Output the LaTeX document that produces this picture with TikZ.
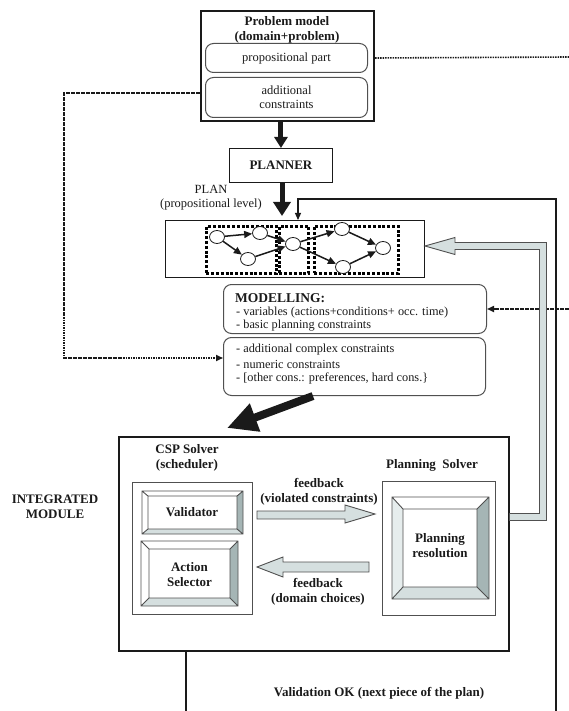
\documentclass[tikz,border=0pt]{standalone}
\usepackage{fontspec}
\setmainfont{Liberation Serif}
\usetikzlibrary{arrows.meta,shapes.geometric}
\definecolor{gfill}{HTML}{D5DFDF}
\definecolor{gdark}{HTML}{A5B5B5}
\definecolor{glight}{HTML}{E6EDED}
\definecolor{gline}{HTML}{505050}
\definecolor{ink}{HTML}{1A1A1A}
\tikzset{
  bt/.style={font=\fontsize{13}{15}\selectfont\bfseries, align=center, inner sep=0pt, text=ink},
  rt/.style={font=\fontsize{12.5}{14}\selectfont, align=center, inner sep=0pt, text=ink},
  lt/.style={font=\fontsize{12.3}{14}\selectfont, align=left, inner sep=0pt, text=ink, anchor=west},
  boxat/.style n args={2}{draw=ink, minimum width=#1, minimum height=#2, anchor=north west, inner sep=0pt},
  rbox/.style={draw=gline, line width=1pt, rounded corners=8pt},
  dots/.style={draw=ink, line width=1.6pt, dash pattern=on 1.6pt off 0.9pt},
  bigdots/.style={draw=black, line width=2.8pt, dash pattern=on 3pt off 1.8pt},
  conn/.style={draw=ink, line width=1.1pt},
  pn/.style={draw=ink, ellipse, line width=0.8pt, minimum width=15pt, minimum height=13pt, inner sep=0pt, fill=white},
  parr/.style={draw=ink, line width=1.5pt, -{Triangle[length=8pt,width=7pt]}},
  smallhead/.style={-{Triangle[length=7pt,width=6pt]}},
  garrow/.style={fill=gfill, draw=gline, line width=0.9pt},
}
\newcommand\bevelbox[9]{%
 \fill[white] (#1,#2) -- (#3,#2) -- (#7,#6) -- (#5,#6) -- cycle;
 \fill[#9] (#1,#2) -- (#5,#6) -- (#5,#8) -- (#1,#4) -- cycle;
 \fill[gdark] (#3,#2) -- (#3,#4) -- (#7,#8) -- (#7,#6) -- cycle;
 \fill[gfill] (#1,#4) -- (#5,#8) -- (#7,#8) -- (#3,#4) -- cycle;
 \draw[gline, line width=0.9pt] (#1,#2) rectangle (#3,#4) (#5,#6) rectangle (#7,#8)
   (#1,#2) -- (#5,#6) (#3,#2) -- (#7,#6) (#1,#4) -- (#5,#8) (#3,#4) -- (#7,#8);
}
\begin{document}
\begin{tikzpicture}[x=1pt,y=-1pt]
\useasboundingbox (0,0) rectangle (569,711);

% Problem model
\node[boxat={173pt}{110pt}, line width=2pt] (pm) at (200,10) {};
\node[bt] (pmt) at (287,29.5) {Problem model\\(domain+problem)};
\node[boxat={162pt}{29pt}, rbox] (pp) at (205,43) {};
\node[rt] (ppt) at (pp.center) {propositional part};
\node[boxat={162pt}{40pt}, rbox] (ac) at (205,77) {};
\node[rt] (act) at (ac.center) {additional\\constraints};

% planner
\node[boxat={103pt}{34pt}, line width=0.9pt] (pl) at (229,148) {};
\node[bt] (plt) at (pl.center) {PLANNER};
\draw[ink, line width=5pt, -{Triangle[length=11pt,width=13pt]}] (pm.south -| pl.north) -- (pl.north);

% plan
\node[rt] (plantxt) at (211,198) {PLAN\\(propositional level)};
\node[boxat={259pt}{57pt}, line width=0.9pt] (pb) at (165,220) {};
\coordinate (pin) at (282,216);
\draw[ink, line width=5pt, -{Triangle[length=14pt,width=17pt]}] (pl.south -| pin) -- (pin);
\node[boxat={70pt}{47pt}, bigdots] (d1) at (205,225) {};
\node[boxat={29pt}{47pt}, bigdots] (d2) at (278,225) {};
\node[boxat={84pt}{47pt}, bigdots] (d3) at (313,225) {};
\node[pn] (n1) at (217,237) {};
\node[pn] (n2) at (260,233) {};
\node[pn] (n3) at (248,259) {};
\node[pn] (n4) at (293,244) {};
\node[pn] (n5) at (342,229) {};
\node[pn] (n6) at (343,267) {};
\node[pn] (n7) at (383,248) {};
\draw[parr] (n1) -- (n2);
\draw[parr] (n1) -- (n3);
\draw[parr] (n2) -- (n4);
\draw[parr] (n3) -- (n4);
\draw[parr] (n4) -- (n5);
\draw[parr] (n4) -- (n6);
\draw[parr] (n5) -- (n7);
\draw[parr] (n6) -- (n7);

% dotted connectors
\coordinate (r1) at (569,57);
\draw[dots] (pm.east |- pp.east) -- (r1);

% modelling boxes
\node[boxat={263pt}{49pt}, rbox] (mb) at (223,284) {};
\node[lt, font=\fontsize{13.5}{15}\selectfont\bfseries] (mbt) at (235,298) {MODELLING:};
\node[lt] (mb1) at (236,313) {- variables (actions+conditions+ occ. time)};
\node[lt] (mb2) at (236,326) {- basic planning constraints};
\node[boxat={262pt}{58pt}, rbox] (cc) at (223,337) {};
\node[lt] (cc1) at (236,350) {- additional complex constraints};
\node[lt] (cc2) at (236,364) {- numeric constraints};
\node[lt] (cc3) at (236,378) {- [other cons.: preferences, hard cons.\}};

\coordinate (l1) at (64,93);
\coordinate (l2) at (64,358);
\draw[dots, smallhead] (pm.west |- l1) -- (l1) -- (l2) -- (cc.west |- l2);
\coordinate (r2) at (569,309);
\draw[dots, smallhead] (r2) -- (mb.east |- r2);

% big diagonal arrow
\coordinate (bs) at (313,396);
\coordinate (ba) at (227,428);
\draw[ink, line width=8pt, -{Triangle[length=30pt,width=28pt]}] (bs) -- (ba);

% right feedback line to plan
\coordinate (c1) at (556,711);
\coordinate (c2) at (556,199);
\coordinate (c3) at (298,199);
\draw[conn, smallhead] (c1) -- (c2) -- (c3) -- (c3 |- pb.north);

% integrated module
\node[boxat={390pt}{214pt}, line width=1.5pt] (im) at (118,436) {};
\node[bt] (imt) at (55,507) {INTEGRATED\\MODULE};
\node[bt] (cspt) at (187,458) {CSP Solver\\(scheduler)};
\node[bt] (pst) at (432,465) {Planning\ \ Solver};
\node[boxat={120pt}{132pt}, draw=gline, line width=0.9pt] (csp) at (132,482) {};
\node[boxat={113pt}{134pt}, draw=gline, line width=0.9pt] (ps) at (382,481) {};

\bevelbox{142}{491}{243}{534}{148}{496}{237}{529}{white}
\node[bt] (val) at (192,512.5) {Validator};
\bevelbox{141}{541}{238}{606}{149}{549}{230}{598}{white}
\node[bt] (asel) at (189.5,575) {Action\\Selector};
\bevelbox{392}{497}{489}{599}{403}{509}{477}{587}{glight}
\node[bt] (pres) at (440,546) {Planning\\resolution};

% grey arrows
\draw[garrow] (257,511) -- (345,511) -- (345,505) -- (375,514) -- (345,523) -- (345,519) -- (257,519) -- cycle;
\draw[garrow] (369,562) -- (283,562) -- (283,557) -- (257,567) -- (283,577) -- (283,572) -- (369,572) -- cycle;
\node[bt] (fb1) at (319,492) {feedback\\(violated constraints)};
\node[bt] (fb2) at (318,592) {feedback\\(domain choices)};

% bent grey arrow to plan
\draw[garrow] (im.east |- 0,513.5) -- (539.5,513.5) -- (539.5,249.5) -- (455,249.5) -- (455,254.5) -- (pb.east |- 0,246) -- (455,237.5) -- (455,242.5) -- (546.5,242.5) -- (546.5,520.5) -- (im.east |- 0,520.5) -- cycle;

% bottom
\coordinate (b1) at (186,711);
\draw[conn] (im.south -| b1) -- (b1);
\node[bt] (vok) at (379,693) {Validation OK (next piece of the plan)};
\end{tikzpicture}
\end{document}
